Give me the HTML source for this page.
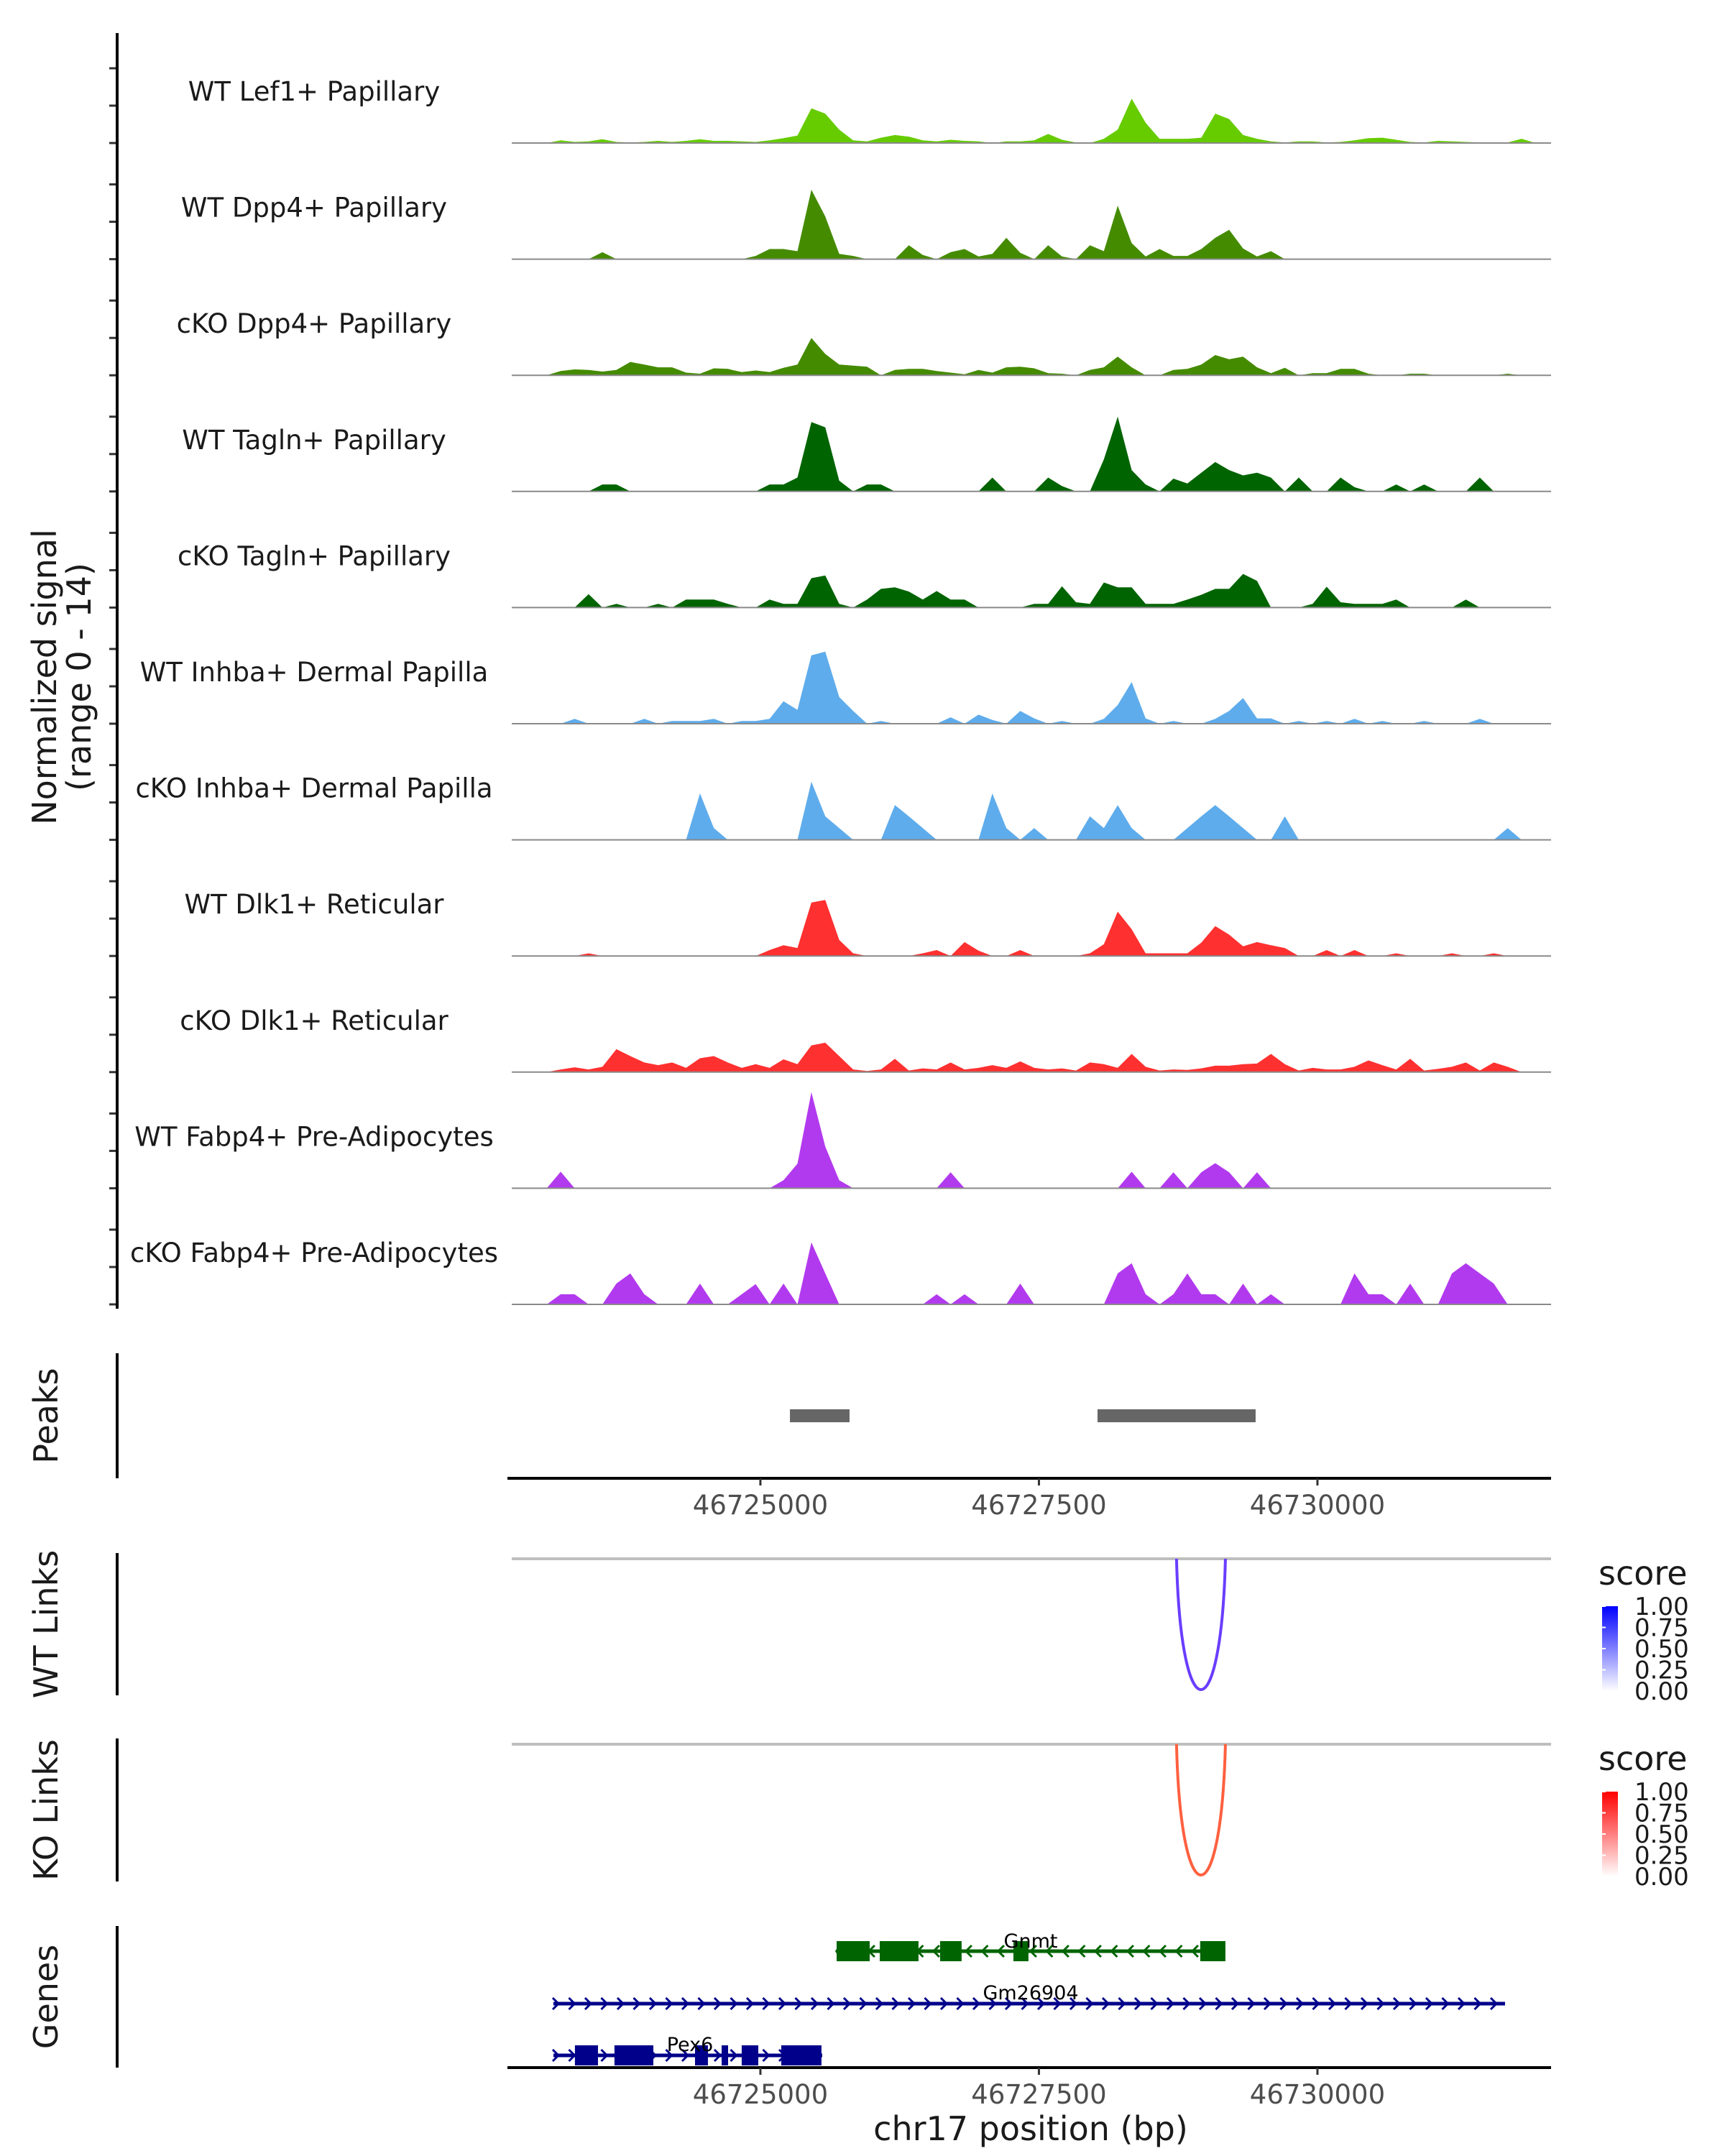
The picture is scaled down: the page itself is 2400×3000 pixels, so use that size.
<!DOCTYPE html>
<html><head><meta charset="utf-8">
<style>
html,body{margin:0;padding:0;background:#fff;}
svg{display:block;font-family:"DejaVu Sans","Liberation Sans",sans-serif;}
</style></head>
<body>
<svg id="chart" width="2400" height="3000" viewBox="0 0 2400 3000" xmlns="http://www.w3.org/2000/svg">
  <g id="tracks"></g>
  <g id="leftaxis"></g>
  <text transform="translate(78,942) rotate(-90)" text-anchor="middle" font-size="46" fill="#1a1a1a"><tspan x="0" dy="0">Normalized signal</tspan><tspan x="0" dy="48">(range 0 - 14)</tspan></text>
  <g id="peaks"></g>
  <g id="links"></g>
  <g id="genes"></g>
  <defs>
    <linearGradient id="gBlue" x1="0" y1="1" x2="0" y2="0"><stop offset="0" stop-color="#ffffff"/><stop offset="1" stop-color="#0000ff"/></linearGradient>
    <linearGradient id="gRed" x1="0" y1="1" x2="0" y2="0"><stop offset="0" stop-color="#ffffff"/><stop offset="1" stop-color="#ff0000"/></linearGradient>
  </defs>
</svg>
<script>
// ---- data ----
const trackNames = ["WT Lef1+ Papillary","WT Dpp4+ Papillary","cKO Dpp4+ Papillary","WT Tagln+ Papillary","cKO Tagln+ Papillary","WT Inhba+ Dermal Papilla","cKO Inhba+ Dermal Papilla","WT Dlk1+ Reticular","cKO Dlk1+ Reticular","WT Fabp4+ Pre-Adipocytes","cKO Fabp4+ Pre-Adipocytes"];
const trackColors = ["#66cc00","#458b00","#458b00","#006400","#006400","#5eacec","#5eacec","#ff3030","#ff3030","#b23aee","#b23aee"];
const binStart = 46722770;
const binWidth = 125;
const sigLef1 = [0,0,0,0.5,0.2,0.3,0.7,0.2,0.1,0.2, 0.4,0.2,0.4,0.7,0.4,0.4,0.3,0.2,0.5,0.9, 1.4,6.5,5.5,2.5,0.5,0.3,1,1.5,1.2,0.5, 0.3,0.6,0.4,0.3,0,0.3,0.3,0.5,1.7,0.6, 0.1,0,0.8,2.5,8.3,3.8,0.8,0.8,0.8,1, 5.5,4.5,1.5,0.8,0.3,0.1,0.3,0.3,0.1,0.2, 0.5,0.9,1,0.6,0.2,0.1,0.4,0.3,0.2,0.1, 0.1,0.1,0.8,0,0];
const sigDpp4WT = [0,0,0,0,0,0,1.3,0,0,0, 0,0,0,0,0,0,0,0.6,1.9,1.9, 1.5,13,8,1,0.6,0,0,0,2.6,0.8, 0,1.3,1.9,0.5,1,4,1.2,0,2.6,0.5, 0,2.6,1.5,10,3,0.5,1.9,0.6,0.6,1.9, 4,5.5,2,0.5,1.5,0,0,0,0,0, 0,0,0,0,0,0,0,0,0,0, 0,0,0,0,0];
const sigDpp4KO = [0,0,0,0.8,1.1,1,0.7,1,2.5,2, 1.5,1.5,0.5,0.3,1.3,1.2,0.6,0.9,0.6,1.4, 2,7,4,2,1.8,1.6,0,1,1.2,1.2, 0.8,0.5,0.2,1,0.5,1.5,1.6,1.3,0.4,0.3, 0,1,1.5,3.5,1.5,0,0,1,1.2,2, 3.8,3,3.5,1.5,0.4,1.4,0,0.4,0.4,1.2, 1.2,0.3,0,0,0.3,0.3,0,0,0,0, 0,0.3,0,0,0];
const sigTaglnWT = [0,0,0,0,0,0,1.3,1.3,0,0, 0,0,0,0,0,0,0,0,1.3,1.3, 2.6,13,12,2,0,1.3,1.3,0,0,0, 0,0,0,0,2.6,0,0,0,2.6,1, 0,0,6,14,4,1.3,0,2.4,1.5,3.5, 5.5,4,3,3.5,2.6,0,2.6,0,0,2.6, 0.8,0,0,1.3,0,1.3,0,0,0,2.6, 0,0,0,0,0];
const sigTaglnKO = [0,0,0,0,0,2.5,0,0.7,0,0, 0.7,0,1.5,1.5,1.5,0.7,0,0,1.5,0.7, 0.7,5.5,6,0.7,0,1.5,3.5,3.8,3,1.5, 3.1,1.5,1.5,0,0,0,0,0.7,0.7,4, 1,0.7,4.7,3.8,3.8,0.7,0.7,0.7,1.5,2.4, 3.5,3.5,6.3,5,0,0,0,0.7,3.9,1, 0.7,0.7,0.7,1.5,0,0,0,0,1.5,0, 0,0,0,0,0];
const sigInhbaWT = [0,0,0,0,0.9,0,0,0,0,0.9, 0,0.5,0.5,0.5,0.9,0,0.5,0.5,0.9,4.2, 2.6,12.8,13.5,5,2.4,0,0.5,0,0,0, 0,1.2,0,1.7,0.7,0,2.4,1,0,0.5, 0,0,0.9,3.5,7.8,1,0,0.5,0,0, 0.9,2.4,4.8,1,1,0,0.5,0,0.5,0, 0.9,0,0.5,0,0,0.5,0,0,0,0.9, 0,0,0,0,0];
const sigInhbaKO = [0,0,0,0,0,0,0,0,0,0, 0,0,0,8.7,2.2,0,0,0,0,0, 0,10.9,4.4,2.2,0,0,0,6.5,4.4,2.2, 0,0,0,0,8.7,2.2,0,2.2,0,0, 0,4.4,2.2,6.5,2.2,0,0,0,2.2,4.4, 6.5,4.4,2.2,0,0,4.4,0,0,0,0, 0,0,0,0,0,0,0,0,0,0, 0,2.2,0,0,0];
const sigDlk1WT = [0,0,0,0,0,0.5,0,0,0,0, 0,0,0,0,0,0,0,0,1.1,2, 1.5,10,10.5,3,0.5,0,0,0,0,0.5, 1.1,0,2.6,1,0,0,1.1,0,0,0, 0,0.5,2.2,8.3,5,0.5,0.5,0.5,0.5,2.5, 5.6,4,1.8,2.6,2,1.5,0,0,1.1,0, 1.1,0,0,0.5,0,0,0,0.5,0,0, 0.5,0,0,0,0];
const sigDlk1KO = [0,0,0,0.5,0.9,0.5,1,4.3,3,1.8, 1.3,1.8,0.8,2.6,3,1.8,0.8,1.5,0.8,2.4, 1.5,5,5.5,3,0.5,0.2,0.5,2.5,0.3,0.7, 0.5,1.8,0.5,0.8,1.3,0.8,2,0.8,0.5,0.7, 0.3,1.8,1.5,0.8,3.4,1,0.3,0.5,0.4,0.7, 1.2,1.2,1.5,1.6,3.4,1.5,0.3,0.8,0.5,0.5, 1,2.2,1.3,0.5,2.5,0.3,0.6,1,1.8,0.3, 1.8,1,0,0,0];
const sigFabp4WT = [0,0,0,3.1,0,0,0,0,0,0, 0,0,0,0,0,0,0,0,0,1.5, 4.6,18,7.8,1.5,0,0,0,0,0,0, 0,3,0,0,0,0,0,0,0,0, 0,0,0,0,3.1,0,0,3,0,3, 4.7,3,0,3,0,0,0,0,0,0, 0,0,0,0,0,0,0,0,0,0, 0,0,0,0,0];
const sigFabp4KO = [0,0,0,1.9,1.9,0,0,3.9,5.8,1.9, 0,0,0,3.9,0,0,1.9,3.8,0,3.9, 0,11.6,5.8,0,0,0,0,0,0,0, 1.9,0,1.9,0,0,0,3.9,0,0,0, 0,0,0,5.8,7.7,1.9,0,1.9,5.8,1.9, 1.9,0,3.9,0,1.9,0,0,0,0,0, 5.8,1.9,1.9,0,3.9,0,0,5.8,7.7,5.8, 3.9,0,0,0,0];
const signals = [sigLef1,sigDpp4WT,sigDpp4KO,sigTaglnWT,sigTaglnKO,sigInhbaWT,sigInhbaKO,sigDlk1WT,sigDlk1KO,sigFabp4WT,sigFabp4KO];
const peakStarts = [46725265, 46728026];
const peakEnds = [46725800, 46729445];
const xTicks = [46725000, 46727500, 46730000];
const linkStarts = [46728735];
const linkEnds = [46729174];
const linkScores = [0.7];
const legendTicks = ["1.00","0.75","0.50","0.25","0.00"];
const geneNames = ["Gnmt","Gm26904","Pex6"];
const geneStarts = [46725677, 46723142, 46723142];
const geneEnds = [46729174, 46731684, 46725555];
const geneStrands = ["-","+","+"];
const geneColors = ["#006400","#00008b","#00008b"];
const gnmtExonStarts = [46725684, 46726071, 46726613, 46727271, 46728948];
const gnmtExonEnds = [46725981, 46726419, 46726806, 46727406, 46729174];
const pex6ExonStarts = [46723335, 46723690, 46724413, 46724652, 46724832, 46725187];
const pex6ExonEnds = [46723542, 46724039, 46724529, 46724710, 46724981, 46725548];

// ---- scales ----
const NS = "http://www.w3.org/2000/svg";
const X0 = 712, X1 = 2158, BP0 = 46722768, BP1 = 46732097;
function xs(bp){ return X0 + (bp - BP0) * (X1 - X0) / (BP1 - BP0); }
const PX_PER_UNIT = 7.43;
function mk(tag, attrs, parent){ const e = document.createElementNS(NS, tag); for (const k in attrs) e.setAttribute(k, attrs[k]); parent.appendChild(e); return e; }

// ---- signal tracks ----
const gT = document.getElementById('tracks');
const gA = document.getElementById('leftaxis');
const base0 = 199, spacing = 161.6;
signals.forEach((vals, t) => {
  const b = base0 + t * spacing;
  const g = mk('g', {}, gT);
  
  
  let d = 'M' + xs(binStart).toFixed(1) + ',' + b;
  vals.forEach((v, i) => {
    const xc = xs(binStart + (i + 0.5) * binWidth);
    d += ' L' + xc.toFixed(1) + ',' + (b - v * PX_PER_UNIT).toFixed(1);
  });
  d += ' L' + xs(binStart + vals.length * binWidth).toFixed(1) + ',' + b + ' Z';
  const area = mk('path', {d: d, fill: trackColors[t], stroke: 'none'}, g);
  
  
  const bl = mk('line', {x1: X0, x2: X1, y1: b, y2: b, stroke: '#8a8a8a', 'stroke-width': 2}, g);
  
  
  const lab = mk('text', {x: 437, y: b - 59, 'text-anchor': 'middle', 'font-size': 37, fill: '#1a1a1a'}, g);
  lab.textContent = trackNames[t];
  
  
  [0, 52, 104].forEach(o => {
    const tk = mk('line', {x1: 152, x2: 163, y1: b - o, y2: b - o, stroke: '#333', 'stroke-width': 3}, gA);
    
    
  });
});
const ax = mk('line', {x1: 163, x2: 163, y1: 46, y2: 1821, stroke: '#000', 'stroke-width': 4}, gA);



// ---- helpers for side panels ----
function sidePanel(parent, name, y1, y2, label){
  const l = mk('line', {x1: 163, x2: 163, y1: y1, y2: y2, stroke: '#000', 'stroke-width': 4}, parent);
  
  
  const t = mk('text', {transform: 'translate(80,' + ((y1 + y2) / 2) + ') rotate(-90)', 'text-anchor': 'middle', 'font-size': 46, fill: '#1a1a1a'}, parent);
  t.textContent = label;
  
  
}
function xAxis(parent, name, y){
  const l = mk('line', {x1: 706, x2: 2158, y1: y, y2: y, stroke: '#000', 'stroke-width': 4}, parent);
  
  
  xTicks.forEach(v => {
    const tk = mk('line', {x1: xs(v), x2: xs(v), y1: y, y2: y + 10, stroke: '#333', 'stroke-width': 3}, parent);
    
    
    const tl = mk('text', {x: xs(v), y: y + 50, 'text-anchor': 'middle', 'font-size': 37, fill: '#4d4d4d'}, parent);
    tl.textContent = String(v);
    
    
  });
}

// ---- peaks ----
const gP = document.getElementById('peaks');
sidePanel(gP, 'peaks', 1883, 2057, 'Peaks');
peakStarts.forEach((s, i) => {
  const r = mk('rect', {x: xs(s), y: 1961, width: xs(peakEnds[i]) - xs(s), height: 18, fill: '#666666'}, gP);
  
  
});
xAxis(gP, 'peaks-x-axis', 2057);

// ---- links ----
const gL = document.getElementById('links');
function linkPanel(name, label, top, bottomAxis, color, grad){
  sidePanel(gL, name, top - 8, bottomAxis, label);
  const gl = mk('line', {x1: X0, x2: X1, y1: top, y2: top, stroke: '#bebebe', 'stroke-width': 4}, gL);
  
  
  linkStarts.forEach((s, i) => {
    const a = xs(s), bb = xs(linkEnds[i]);
    const depth = 182;
    const cy = top + depth * 4 / 3;
    const p = mk('path', {d: 'M' + a + ',' + top + ' C' + (a + 6) + ',' + cy + ' ' + (bb - 6) + ',' + cy + ' ' + bb + ',' + top, fill: 'none', stroke: color, 'stroke-width': 4}, gL);
    
    
  });
  const lt = mk('text', {x: 2224, y: top + 36, 'font-size': 46, fill: '#1a1a1a'}, gL);
  lt.textContent = 'score';
  
  
  const by0 = top + 66, bh = 118;
  const cb = mk('rect', {x: 2229, y: by0, width: 22, height: bh, fill: 'url(#' + grad + ')'}, gL);
  
  
  legendTicks.forEach((t, i) => {
    const yy = by0 + i * bh / (legendTicks.length - 1);
    const tk = mk('line', {x1: 2229, x2: 2234, y1: yy, y2: yy, stroke: '#fff', 'stroke-width': 2}, gL);
    
    
    const tx = mk('text', {x: 2274, y: yy + 12, 'font-size': 34, fill: '#1a1a1a'}, gL);
    tx.textContent = t;
    
    
  });
}
linkPanel('wt-links', 'WT Links', 2169, 2359, '#6a3dff', 'gBlue');
linkPanel('ko-links', 'KO Links', 2427, 2618, '#ff6040', 'gRed');

// ---- genes ----
const gG = document.getElementById('genes');
sidePanel(gG, 'genes', 2680, 2877, 'Genes');
const geneY = [2715, 2788, 2860];
const exonSets = [[gnmtExonStarts, gnmtExonEnds], null, [pex6ExonStarts, pex6ExonEnds]];
geneNames.forEach((n, i) => {
  const y = geneY[i], c = geneColors[i];
  const g = mk('g', {}, gG);
  
  
  const x1 = xs(geneStarts[i]), x2 = xs(geneEnds[i]);
  mk('line', {x1: x1, x2: x2, y1: y, y2: y, stroke: c, 'stroke-width': 5}, g);
  const step = 22.5;
  let d = '';
  for (let x = x1 + 4; x <= x2 - 2; x += step) {
    if (geneStrands[i] === '+') d += 'M' + (x - 5) + ',' + (y - 8) + ' L' + (x + 3) + ',' + y + ' L' + (x - 5) + ',' + (y + 8) + ' ';
    else d += 'M' + (x + 5) + ',' + (y - 8) + ' L' + (x - 3) + ',' + y + ' L' + (x + 5) + ',' + (y + 8) + ' ';
  }
  const ar = mk('path', {d: d, fill: 'none', stroke: c, 'stroke-width': 3}, g);
  
  
  if (exonSets[i]) {
    exonSets[i][0].forEach((s, k) => {
      const r = mk('rect', {x: xs(s), y: y - 14, width: xs(exonSets[i][1][k]) - xs(s), height: 28, fill: c}, g);
      
      
    });
  }
});
const labX = [1434, 1434, 960];
const labY = [2710, 2782, 2854];
geneNames.forEach((n, i) => {
  const t = mk('text', {x: labX[i], y: labY[i], 'text-anchor': 'middle', 'font-size': 27, fill: '#000'}, gG);
  t.textContent = n;
  
  
});
xAxis(gG, 'genes-x-axis', 2877);
const xt = mk('text', {x: 1434, y: 2978, 'text-anchor': 'middle', 'font-size': 46, fill: '#1a1a1a'}, gG);
xt.textContent = 'chr17 position (bp)';


</script>
</body></html>
